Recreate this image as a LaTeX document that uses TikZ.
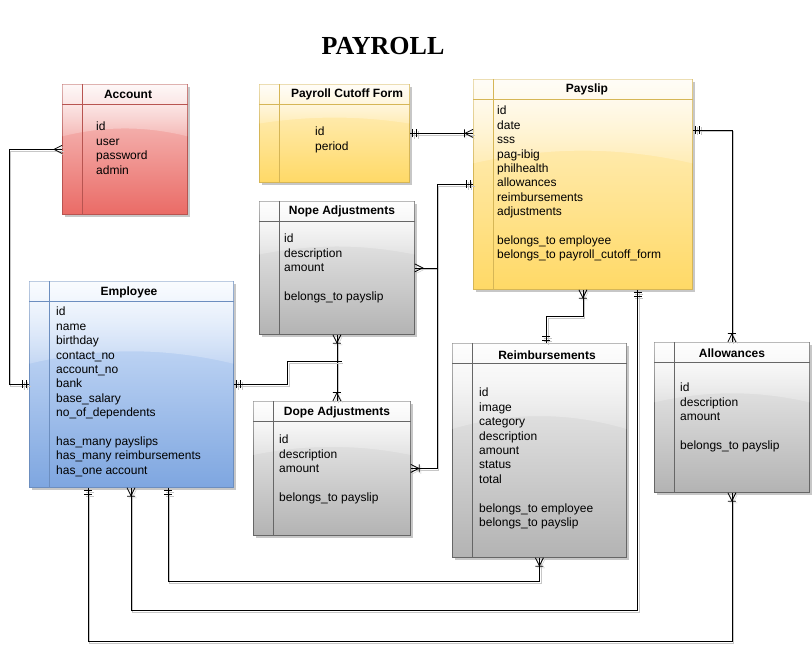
\documentclass[tikz,border=0pt]{standalone}
\usepackage{fontspec}
\setmainfont{Liberation Sans}
\newfontfamily\titlefont{Liberation Serif}
\usetikzlibrary{calc, shadows, fadings}

\definecolor{redtop}{HTML}{F8CECC}
\definecolor{redbot}{HTML}{EA6B66}
\definecolor{redline}{HTML}{B85450}
\definecolor{yellowtop}{HTML}{FFF2CC}
\definecolor{yellowbot}{HTML}{FFD966}
\definecolor{yellowline}{HTML}{D6B656}
\definecolor{bluetop}{HTML}{DAE8FC}
\definecolor{bluebot}{HTML}{7EA6E0}
\definecolor{blueline}{HTML}{6C8EBF}
\definecolor{graytop}{HTML}{F5F5F5}
\definecolor{graybot}{HTML}{B3B3B3}
\definecolor{grayline}{HTML}{666666}

\tikzfading[name=glassfade, top color=transparent!15, bottom color=transparent!80]

% crow's foot ends
\pgfdeclarearrow{
  name = crow,
  setup code = {
    \pgfarrowssettipend{0pt}
    \pgfarrowssetlineend{0pt}
    \pgfarrowssetbackend{-8pt}
    \pgfarrowsupperhullpoint{0pt}{4pt}
    \pgfarrowsupperhullpoint{-8pt}{4pt}
  },
  drawing code = {
    \pgfpathmoveto{\pgfqpoint{0pt}{4pt}}
    \pgfpathlineto{\pgfqpoint{-8pt}{0pt}}
    \pgfpathlineto{\pgfqpoint{0pt}{-4pt}}
    \pgfusepathqstroke
  }
}
\pgfdeclarearrow{
  name = crowbar,
  setup code = {
    \pgfarrowssettipend{0pt}
    \pgfarrowssetlineend{0pt}
    \pgfarrowssetbackend{-9pt}
    \pgfarrowsupperhullpoint{0pt}{4pt}
    \pgfarrowsupperhullpoint{-9pt}{4pt}
  },
  drawing code = {
    \pgfpathmoveto{\pgfqpoint{0pt}{4pt}}
    \pgfpathlineto{\pgfqpoint{-8pt}{0pt}}
    \pgfpathlineto{\pgfqpoint{0pt}{-4pt}}
    \pgfpathmoveto{\pgfqpoint{-8.5pt}{4pt}}
    \pgfpathlineto{\pgfqpoint{-8.5pt}{-4pt}}
    \pgfusepathqstroke
  }
}
\pgfdeclarearrow{
  name = onlyone,
  setup code = {
    \pgfarrowssettipend{0pt}
    \pgfarrowssetlineend{0pt}
    \pgfarrowssetbackend{-8pt}
    \pgfarrowsupperhullpoint{0pt}{4pt}
    \pgfarrowsupperhullpoint{-8pt}{4pt}
  },
  drawing code = {
    \pgfpathmoveto{\pgfqpoint{-3pt}{4pt}}
    \pgfpathlineto{\pgfqpoint{-3pt}{-4pt}}
    \pgfpathmoveto{\pgfqpoint{-6.5pt}{4pt}}
    \pgfpathlineto{\pgfqpoint{-6.5pt}{-4pt}}
    \pgfusepathqstroke
  }
}

\tikzset{every picture/.style = {x=1pt, y=-1pt}}
\tikzset{entity/.style = {shape=rectangle, anchor=north west, inner sep=0, line width=0.8pt,
  drop shadow={shadow xshift=3pt, shadow yshift=-3pt, fill=black, opacity=0.22}}}
\tikzset{redbox/.style = {entity, draw=redline, top color=redtop, bottom color=redbot}}
\tikzset{yellowbox/.style = {entity, draw=yellowline, top color=yellowtop, bottom color=yellowbot}}
\tikzset{bluebox/.style = {entity, draw=blueline, top color=bluetop, bottom color=bluebot}}
\tikzset{graybox/.style = {entity, draw=grayline, top color=graytop, bottom color=graybot}}
\tikzset{title/.style = {inner sep=0, font=\bfseries\fontsize{12}{14}\selectfont}}
\tikzset{fields/.style = {anchor=north west, inner sep=0, align=left, font=\fontsize{12}{14.4}\selectfont}}
\tikzset{link/.style = {draw, line width=0.8pt,
  preaction={draw=black!22, transform canvas={shift={(1.5pt,-1.5pt)}}}}}

\begin{document}
\begin{tikzpicture}
  \useasboundingbox (0,0) rectangle (812,658);
  \node[font=\titlefont\bfseries\fontsize{26}{28}\selectfont] (heading) at (383,46) {PAYROLL};

  % tables
  \node[redbox, minimum width=125pt, minimum height=130pt] (account) at (62,84) {};
  \node[yellowbox, minimum width=150pt, minimum height=98pt] (payroll) at (259,84) {};
  \node[yellowbox, minimum width=219pt, minimum height=210pt] (payslip) at (473,79) {};
  \node[graybox, minimum width=155pt, minimum height=133pt] (nope) at (259,201) {};
  \node[bluebox, minimum width=204pt, minimum height=206pt] (employee) at (29,281) {};
  \node[graybox, minimum width=157pt, minimum height=134pt] (dope) at (253,401) {};
  \node[graybox, minimum width=174pt, minimum height=214pt] (reimb) at (452,343) {};
  \node[graybox, minimum width=155pt, minimum height=150pt] (allow) at (654,342) {};

  % gloss, header and key column
  \foreach \e/\c in {account/redline, payroll/yellowline, payslip/yellowline, nope/grayline,
      employee/blueline, dope/grayline, reimb/grayline, allow/grayline} {
    \fill[white, path fading=glassfade] let \p1 = (\e.north west), \p2 = (\e.south east),
        \n1 = {0.4*(\y1-\y2)} in
      (\x1+0.4pt, \y1-0.4pt) -- (\x1+0.4pt, \y1-\n1*1pt)
      .. controls (\x1*2/3+\x2/3, \y1-0.8*\n1*1pt) and (\x1/3+\x2*2/3, \y1-0.8*\n1*1pt) ..
      (\x2-0.4pt, \y1-\n1*1pt) -- (\x2-0.4pt, \y1-0.4pt) -- cycle;
    \draw[\c, line width=0.8pt] ($(\e.north west)+(0,20)$) -- ($(\e.north east)+(0,20)$);
    \draw[\c, line width=0.8pt] ($(\e.north west)+(20,0)$) -- ($(\e.south west)+(20,0)$);
  }

  % titles
  \node[title] (account title) at (128,94) {Account};
  \node[title] (payroll title) at (347,94) {Payroll Cutoff Form};
  \node[title] (payslip title) at (587,89) {Payslip};
  \node[title] (nope title) at (342,211) {Nope Adjustments};
  \node[title] (employee title) at (129,292) {Employee};
  \node[title] (dope title) at (337,412) {Dope Adjustments};
  \node[title] (reimb title) at (547,355) {Reimbursements};
  \node[title] (allow title) at (732,353) {Allowances};

  % fields
  \node[fields] (account fields) at (96,122) {id\\user\\password\\admin};
  \node[fields] (payroll fields) at (315,127) {id\\period};
  \node[fields] (payslip fields) at (497,106) {id\\date\\sss\\pag-ibig\\philhealth\\allowances\\reimbursements\\adjustments\\[14.4pt]belongs\_to employee\\belongs\_to payroll\_cutoff\_form};
  \node[fields] (nope fields) at (284,234) {id\\description\\amount\\[14.4pt]belongs\_to payslip};
  \node[fields] (employee fields) at (56,307) {id\\name\\birthday\\contact\_no\\account\_no\\bank\\base\_salary\\no\_of\_dependents\\[14.4pt]has\_many payslips\\has\_many reimbursements\\has\_one account};
  \node[fields] (dope fields) at (279,435) {id\\description\\amount\\[14.4pt]belongs\_to payslip};
  \node[fields] (reimb fields) at (479,388) {id\\image\\category\\description\\amount\\status\\total\\[14.4pt]belongs\_to employee\\belongs\_to payslip};
  \node[fields] (allow fields) at (680,383) {id\\description\\amount\\[14.4pt]belongs\_to payslip};

  % relations
  \coordinate (split) at (437,184);
  \draw[link, crow-onlyone] (account.west) -- ++(-53,0) |- (employee.west);
  \draw[link, onlyone-crowbar] (payroll.east) -- (payroll.east -| payslip.west);
  \draw[link, onlyone-crow] (payslip.west) -- (payslip.west -| split) |- (nope.east);
  \draw[link, -crowbar] (payslip.west -| split) |- (dope.east);
  \draw[link, crowbar-crowbar] (nope.south) -- (nope.south |- dope.north);
  \draw[link, onlyone-] (employee.east) -- ++(54,0) |- ($(nope.south)+(5,27)$);
  \draw[link, crowbar-onlyone] (payslip.south) -- ++(0,27) -| ($(reimb.north)+(7,0)$);
  \draw[link, onlyone-crowbar] ($(payslip.north east)+(0,51)$) -| (allow.north);
  \draw[link, onlyone-crowbar] ($(payslip.south east)+(-55,0)$) -- ++(0,321) -| ($(employee.south west)+(102,0)$);
  \draw[link, onlyone-crowbar] ($(employee.south west)+(139,0)$) -- ++(0,94) -| (reimb.south);
  \draw[link, onlyone-crowbar] ($(employee.south west)+(59,0)$) -- ++(0,154) -| (allow.south);
\end{tikzpicture}
\end{document}
